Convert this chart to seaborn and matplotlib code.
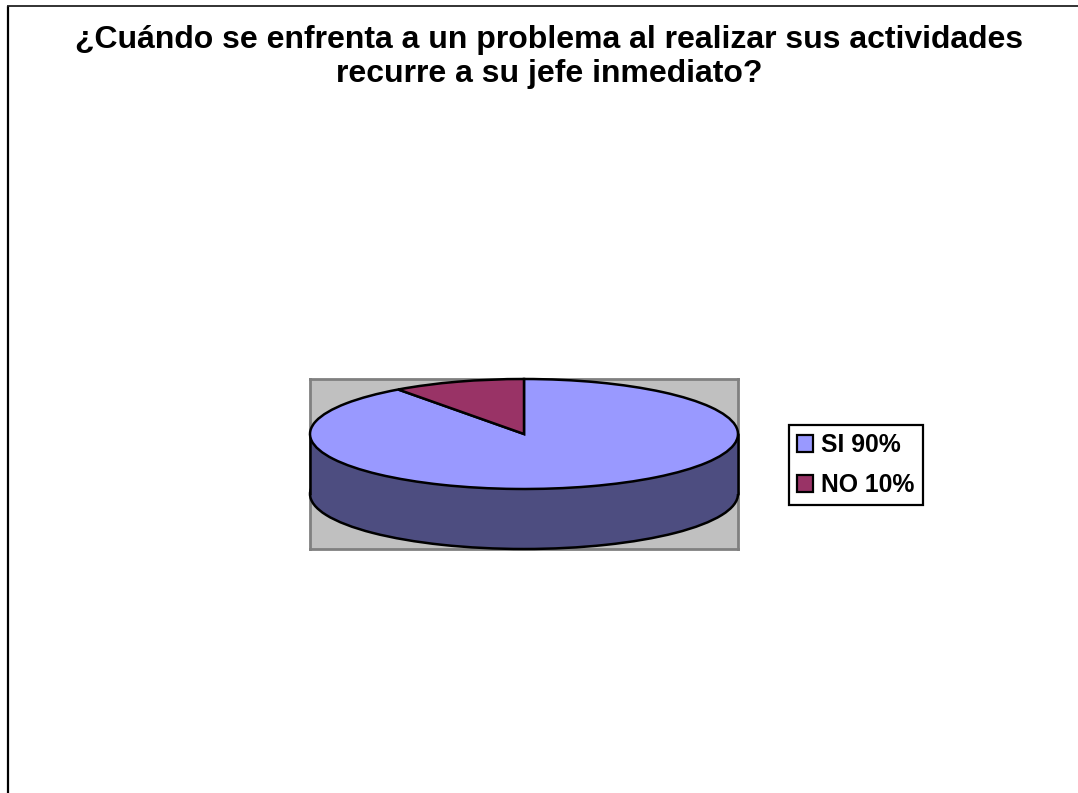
import matplotlib
matplotlib.use("Agg")
import matplotlib.pyplot as plt
from matplotlib.patches import Rectangle
import seaborn as sns

TITLE = "¿Cuándo se enfrenta a un problema al realizar sus actividades\nrecurre a su jefe inmediato?"
categories = ["SI", "NO"]
values = [90, 10]
colors = ["#9999FF", "#993366"]
shade = "#4D4D80"
wall = "#C0C0C0"
wall_edge = "#808080"

sns.set_theme(style="white")
plt.rcParams["font.family"] = ["Liberation Sans", "DejaVu Sans"]

W, H = 1078, 793
fig = plt.figure(figsize=(W / 100, H / 100), dpi=100, facecolor="white")


def box(x0, y0, x1, y1):
    return [x0 / W, 1 - y1 / H, (x1 - x0) / W, (y1 - y0) / H]


# outer frame, drawn open at the bottom and on the right
bg = fig.add_axes([0, 0, 1, 1])
bg.set_xlim(0, W)
bg.set_ylim(H, 0)
bg.axis("off")
bg.plot([8, 8], [H, 6], color="black", lw=1.6, solid_capstyle="butt")
bg.plot([7, W], [6, 6], color="#222222", lw=1.3, solid_capstyle="butt")
bg.text(549, 57, TITLE, ha="center", va="center", fontsize=23, fontweight="bold",
        color="black", linespacing=1.19)

# pie: one data unit across = half the ellipse width, one unit up = half its height
ax = fig.add_axes(box(310, 379, 738, 549))
depth = 60 / 55
lw = 1.8
line = dict(edgecolor="black", linewidth=lw, clip_on=False)
ax.pie([sum(values)], center=(0, -depth), colors=[shade], startangle=90,
       wedgeprops=dict(line, zorder=1), frame=False)
ax.add_patch(Rectangle((-1, -depth), 2, depth, facecolor=shade, edgecolor="none", zorder=2))
ax.plot([-1, -1], [0, -depth], color="black", lw=lw, zorder=3, clip_on=False)
ax.plot([1, 1], [0, -depth], color="black", lw=lw, zorder=3, clip_on=False)
ax.pie(values, colors=colors, startangle=90, counterclock=False,
       wedgeprops=dict(line, zorder=4), frame=False)
ax.set_aspect("auto")
ax.set_xlim(-1, 1)
ax.set_ylim(1 - 170 / 55, 1)
ax.set_frame_on(True)
ax.set_facecolor(wall)
ax.set_xticks([])
ax.set_yticks([])
for s in ax.spines.values():
    s.set_visible(True)
    s.set_color(wall_edge)
    s.set_linewidth(2)
    s.set_zorder(0.5)

# legend
handles = [Rectangle((0, 0), 1, 1, facecolor=c, edgecolor="black", linewidth=1.6) for c in colors]
labels = [f"{c} {v}%" for c, v in zip(categories, values)]
leg = fig.legend(handles, labels, loc="upper left", bbox_to_anchor=(789 / W, 1 - 425 / H),
                 bbox_transform=fig.transFigure, borderaxespad=0,
                 prop=dict(family="Liberation Sans", weight="bold", size=17.8),
                 labelcolor="black",
                 frameon=True, fancybox=False, framealpha=1, edgecolor="black",
                 handlelength=0.65, handleheight=0.65, handletextpad=0.3,
                 labelspacing=0.63, borderpad=0.34)
leg.get_frame().set_linewidth(1.6)

fig.savefig("out.png", dpi=100)
